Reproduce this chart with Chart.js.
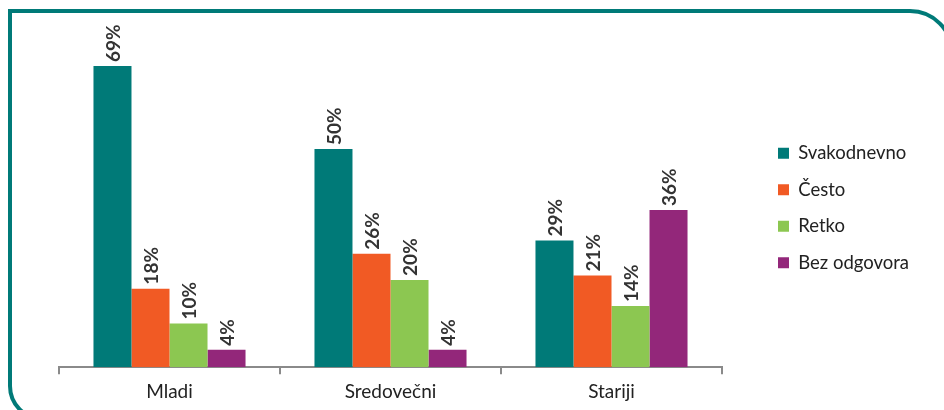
<!DOCTYPE html>
<html>
<head>
<meta charset="utf-8">
<script src="https://cdn.jsdelivr.net/npm/chart.js@4"></script>
<style>
  html, body { margin: 0; padding: 0; background: #fff; overflow: hidden; }
  #wrap { position: relative; width: 944px; height: 410px; }
  #okvir {
    position: absolute; left: 8px; top: 9px; width: 938px; height: 404px;
    border: 4px solid #007a78; border-top-right-radius: 44px; border-bottom-left-radius: 35px;
    box-sizing: content-box; pointer-events: none;
  }
  canvas { position: absolute; left: 0; top: 0; }
</style>
</head>
<body>
<div id="wrap">
  <div id="okvir"></div>
  <canvas id="grafikon" width="944" height="410"></canvas>
</div>
<script>
// podaci
const kategorije = ['Mladi', 'Sredovečni', 'Stariji'];
const serije = ['Svakodnevno', 'Često', 'Retko', 'Bez odgovora'];
const svakodnevno = [69, 50, 29];
const cesto = [18, 26, 21];
const retko = [10, 20, 14];
const bezOdgovora = [4, 4, 36];
const boje = ['#007a78', '#f15a24', '#8cc751', '#93277a'];

const font = 'Lato, "Open Sans", sans-serif';

// pomera legendu udesno da bi ostao razmak do ose
const legendaRazmak = {
  id: 'legendaRazmak',
  beforeInit(chart) {
    const fit = chart.legend.fit;
    chart.legend.fit = function () {
      fit.call(this);
      this.width = 944 - 722;
    };
  },
  afterLayout(chart) {
    chart.legend.left += 38;
    chart.legend.right += 38;
    chart.legend.top -= 6;
    chart.legend.bottom -= 6;
  }
};

// procenti iznad stubaca, rotirani
const etikete = {
  id: 'etikete',
  afterDatasetsDraw(chart) {
    const ctx = chart.ctx;
    ctx.save();
    ctx.font = 'bold 19px ' + font;
    ctx.fillStyle = '#333';
    ctx.textAlign = 'left';
    ctx.textBaseline = 'middle';
    chart.data.datasets.forEach((ds, i) => {
      chart.getDatasetMeta(i).data.forEach((bar, j) => {
        ctx.save();
        ctx.translate(bar.x, bar.y - 4);
        ctx.rotate(-Math.PI / 2);
        ctx.fillText(ds.data[j] + '%', 0, 1);
        ctx.restore();
      });
    });
    ctx.restore();
  }
};

const podaci = [svakodnevno, cesto, retko, bezOdgovora];

new Chart(document.getElementById('grafikon').getContext('2d'), {
  type: 'bar',
  data: {
    labels: kategorije,
    datasets: serije.map((ime, i) => ({
      label: ime,
      data: podaci[i],
      backgroundColor: boje[i],
      borderWidth: 0,
      categoryPercentage: 0.688,
      barPercentage: 1.0
    }))
  },
  options: {
    responsive: false,
    animation: false,
    layout: { padding: { left: 59, top: 18, right: 0, bottom: 0 } },
    plugins: {
      legend: {
        position: 'right',
        labels: {
          boxWidth: 11,
          boxHeight: 11,
          padding: 18,
          color: '#222',
          font: { family: font, size: 18.5 }
        }
      },
      tooltip: { enabled: false }
    },
    scales: {
      x: {
        grid: {
          display: true,
          offset: true,
          drawOnChartArea: false,
          drawTicks: true,
          tickLength: 7,
          color: '#8a8a8a',
          lineWidth: 2
        },
        border: { display: true, color: '#8a8a8a', width: 2 },
        ticks: { color: '#222', padding: 6.5, font: { family: font, size: 19 } }
      },
      y: {
        display: false,
        min: 0,
        max: 80
      }
    }
  },
  plugins: [legendaRazmak, etikete]
});
</script>
</body>
</html>
